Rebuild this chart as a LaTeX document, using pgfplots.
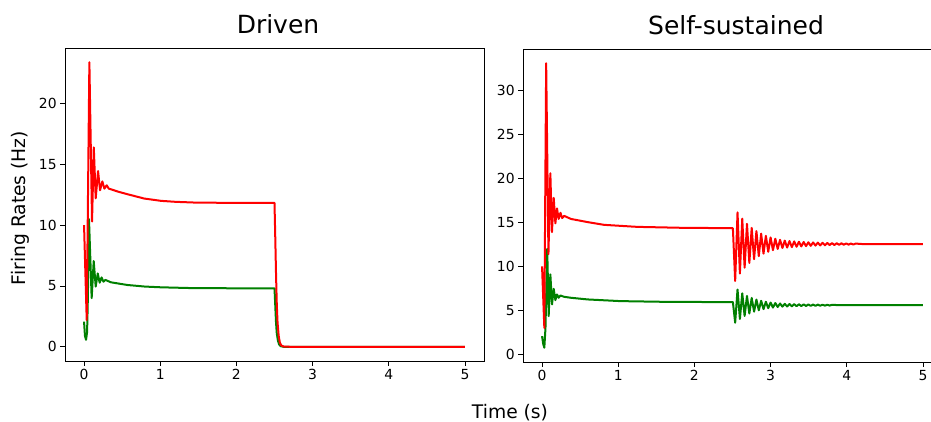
\documentclass[border=0pt]{standalone}
\usepackage{fontspec}
\setmainfont{DejaVu Sans}
\usepackage{pgfplots}
\pgfplotsset{compat=1.18}
\definecolor{mplgreen}{rgb}{0,0.5,0}
\pgfplotsset{
  myax/.style={
    scale only axis, width=419pt, height=313pt,
    anchor=south west,
    xmin=-0.25, xmax=5.25,
    xtick={0,1,2,3,4,5},
    tick align=outside, xtick pos=lower, ytick pos=left,
    major tick length=4.86pt,
    axis line style={black, line width=0.8pt},
    tick style={black, line width=0.8pt},
    tick label style={font=\fontsize{13.9}{16}\selectfont},
    /pgf/number format/assume math mode=true,
    clip=true,
  },
  gl/.style={mplgreen, line width=2pt, no marks, line join=round},
  rl/.style={red, line width=2pt, no marks, line join=round},
}
\begin{document}
\begin{tikzpicture}[x=1pt,y=1pt]
\useasboundingbox (0,0) rectangle (931,422);
% ---------------- Driven ----------------
\begin{axis}[myax, at={(65pt,61pt)}, ymin=-1.17, ymax=24.57, ytick={0,5,10,15,20}]
\addplot[gl] coordinates {
(0,2.07) (0.012,0.9) (0.026,0.57) (0.04,1.2) (0.05,4) (0.065,10.5) (0.1,4.0) (0.127,7.05) (0.153,4.95) (0.18,6.03) (0.205,5.27) (0.23,5.7) (0.255,5.35) (0.28,5.5) (0.354,5.3) (0.57,5.08) (0.8,4.95) (1.01,4.89) (1.45,4.82) (2.0,4.81) (2.5,4.81) (2.51,3.4) (2.52,2.0) (2.53,1.1) (2.545,0.5) (2.56,0.2) (2.58,0.05) (2.62,0) (5,0)
};
\addplot[rl] coordinates {
(0,10) (0.035,2.2) (0.07,23.4) (0.105,10.3) (0.128,16.4) (0.153,12.2) (0.184,14.45) (0.21,12.87) (0.24,13.6) (0.267,13.0) (0.297,13.28) (0.325,13.0) (0.354,12.95) (0.45,12.75) (0.573,12.54) (0.79,12.19) (1.01,12.0) (1.2,11.92) (1.45,11.86) (1.8,11.84) (2.32,11.83) (2.5,11.83) (2.51,9) (2.52,6) (2.53,3.5) (2.54,2) (2.555,0.9) (2.57,0.35) (2.59,0.1) (2.62,0.02) (2.7,0) (5,0)
};
\end{axis}
% ---------------- Self-sustained ----------------
\begin{axis}[myax, at={(523pt,60pt)}, ymin=-0.86, ymax=34.72, ytick={0,5,10,15,20,25,30}]
\addplot[gl] coordinates {
(0,2.08) (0.015,1.2) (0.03,0.76) (0.045,3) (0.068,12) (0.087,4.36) (0.109,9.1) (0.131,5.68) (0.153,7.46) (0.175,6.17) (0.196,6.82) (0.218,6.44) (0.24,6.7) (0.29,6.55) (0.38,6.44) (0.6,6.25) (1.03,6.06) (1.6,5.98) (2.34,5.95) (2.505,5.95)
(2.535,3.6) (2.566,7.38)
(2.597,4.04) (2.628,6.95)
(2.659,4.38) (2.690,6.65)
(2.721,4.65) (2.752,6.42)
(2.783,4.86) (2.814,6.24)
(2.845,5.02) (2.876,6.10)
(2.907,5.15) (2.938,5.99)
(2.969,5.25) (3.000,5.90)
(3.031,5.33) (3.062,5.84)
(3.093,5.39) (3.124,5.79)
(3.155,5.43) (3.186,5.75)
(3.217,5.45) (3.248,5.73)
(3.279,5.47) (3.310,5.71)
(3.341,5.485) (3.372,5.70)
(3.403,5.50) (3.434,5.69)
(3.465,5.51) (3.496,5.68)
(3.527,5.52) (3.558,5.67)
(3.589,5.53) (3.620,5.66)
(3.651,5.54) (3.682,5.65)
(3.713,5.55) (3.744,5.645)
(3.775,5.555) (3.806,5.64)
(3.9,5.6) (5,5.6)
};
\addplot[rl] coordinates {
(0,10) (0.03,3.0) (0.054,33.1) (0.084,11.4) (0.109,20.6) (0.13,13.9) (0.153,17.8) (0.175,14.9) (0.196,16.6) (0.218,15.4) (0.242,16.1) (0.264,15.5) (0.29,15.75) (0.38,15.4) (0.6,15.04) (0.815,14.73) (1.25,14.5) (1.8,14.4) (2.34,14.36) (2.505,14.35)
(2.535,8.35) (2.566,16.15)
(2.597,9.19) (2.628,15.43)
(2.659,9.86) (2.690,14.85)
(2.721,10.40) (2.752,14.39)
(2.783,10.83) (2.814,14.02)
(2.845,11.17) (2.876,13.73)
(2.907,11.45) (2.938,13.49)
(2.969,11.67) (3.000,13.30)
(3.031,11.85) (3.062,13.15)
(3.093,11.99) (3.124,13.03)
(3.155,12.10) (3.186,12.94)
(3.217,12.15) (3.248,12.89)
(3.279,12.20) (3.310,12.85)
(3.341,12.24) (3.372,12.81)
(3.403,12.28) (3.434,12.78)
(3.465,12.31) (3.496,12.75)
(3.527,12.34) (3.558,12.73)
(3.589,12.37) (3.620,12.71)
(3.651,12.39) (3.682,12.69)
(3.713,12.41) (3.744,12.67)
(3.775,12.43) (3.806,12.66)
(3.837,12.44) (3.868,12.64)
(3.899,12.46) (3.930,12.63)
(3.961,12.47) (3.992,12.62)
(4.023,12.48) (4.054,12.61)
(4.085,12.49) (4.116,12.60)
(4.2,12.55) (5,12.55)
};
\end{axis}
% ---------------- texts ----------------
\node[anchor=base, font=\fontsize{25}{30}\selectfont] at (278,388) {Driven};
\node[anchor=base, font=\fontsize{25}{30}\selectfont] at (736,387) {Self-sustained};
\node[anchor=base, font=\fontsize{18.7}{22}\selectfont] at (510,3) {Time (s)};
\node[rotate=90, font=\fontsize{18.7}{22}\selectfont] at (20,214) {Firing Rates (Hz)};
\end{tikzpicture}
\end{document}
